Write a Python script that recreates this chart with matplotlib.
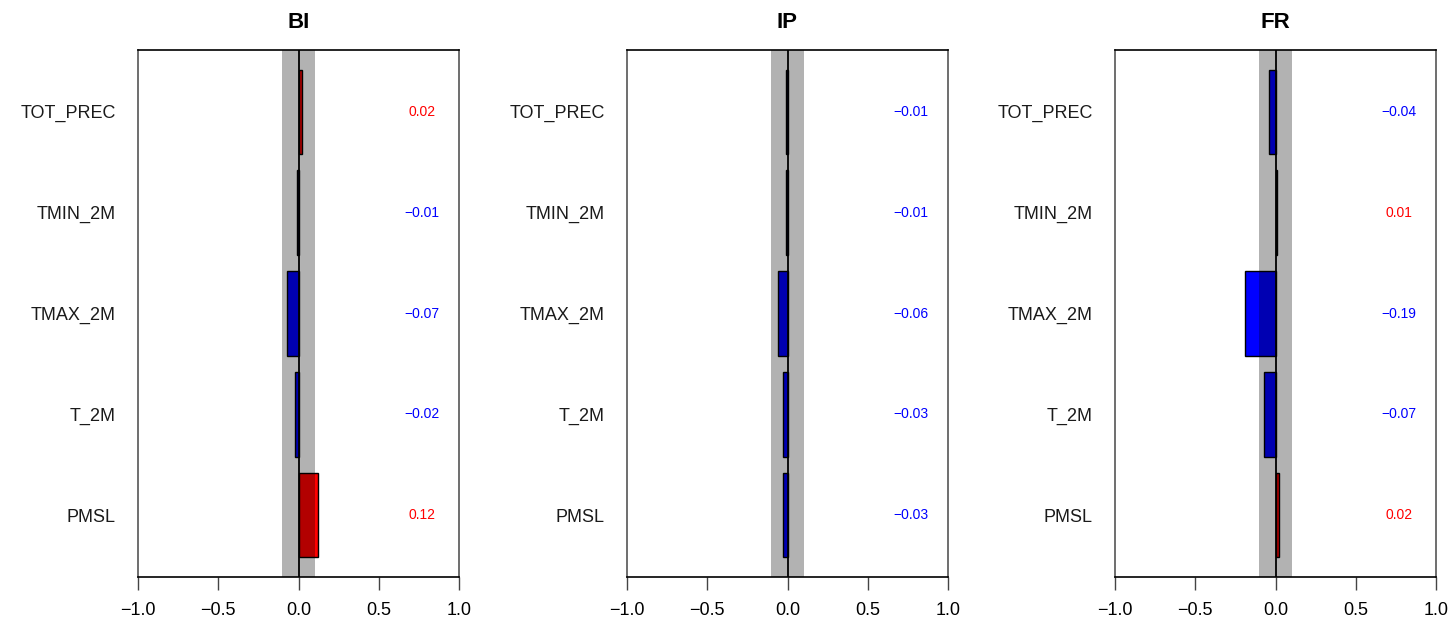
import numpy as np
import matplotlib
matplotlib.use('Agg')
import matplotlib.pyplot as plt

plt.rcParams['font.family'] = ['Liberation Sans', 'DejaVu Sans']

# predictors (bottom to top)
variables = ['PMSL', 'T_2M', 'TMAX_2M', 'TMIN_2M', 'TOT_PREC']
regions = ['BI', 'IP', 'FR']
bi_vals = [0.12, -0.02, -0.07, -0.01, 0.02]
ip_vals = [-0.03, -0.03, -0.06, -0.01, -0.01]
fr_vals = [0.02, -0.07, -0.19, 0.01, -0.04]
all_vals = [bi_vals, ip_vals, fr_vals]
band = 0.1
xticks = [-1.0, -0.5, 0.0, 0.5, 1.0]

fig = plt.figure(figsize=(14.49, 6.27), dpi=100)
lefts = [138 / 1449, 627 / 1449, 1115 / 1449]
w = 321 / 1449
b = 1 - 577 / 627
h = 527 / 627

for name, vals, left in zip(regions, all_vals, lefts):
    ax = fig.add_axes([left, b, w, h])
    y = np.arange(len(variables))
    cols = ['#ff0000' if v > 0 else '#0000ff' for v in vals]
    ax.barh(y, vals, height=0.833, color=cols, edgecolor='black', linewidth=1, zorder=2)
    # significance band drawn as a translucent overlay
    ax.axvspan(-band, band, color='black', alpha=0.3, lw=0, zorder=3)
    ax.axvline(0, color='black', lw=1.3, zorder=4)
    for yi, v in zip(y, vals):
        ax.text(0.77, yi, f'{v:.2f}'.replace('-', '\u2212'), color=cols[yi],
                fontsize=10, ha='center', va='center', zorder=5)
    ax.set_xlim(-1, 1)
    ax.set_ylim(-0.61, 4.61)
    ax.set_xticks(xticks)
    ax.set_xticklabels([f'{t:.1f}'.replace('-', '\u2212') for t in xticks], fontsize=13)
    ax.set_yticks(y)
    ax.set_yticklabels(variables, fontsize=13, color='#1a1a1a')
    ax.tick_params(axis='y', length=0, pad=16)
    ax.tick_params(axis='x', length=9, width=1, pad=9, color='#444444')
    for s in ['left', 'right']:
        ax.spines[s].set_color('#555555')
        ax.spines[s].set_linewidth(1.2)
    for s in ['top', 'bottom']:
        ax.spines[s].set_linewidth(1.2)
    ax.text(0.5, 1 + 27 / 527, name, transform=ax.transAxes, ha='center', va='center',
            fontsize=16, fontweight='bold')

fig.savefig('out.png', dpi=100)
